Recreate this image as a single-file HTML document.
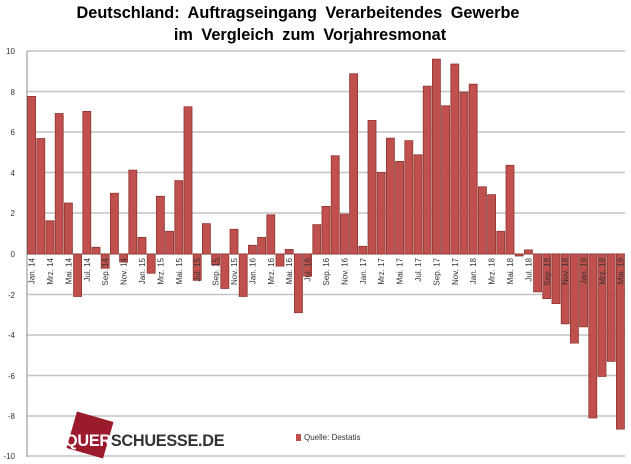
<!DOCTYPE html>
<html><head><meta charset="utf-8"><style>
html,body{margin:0;padding:0;background:#fff;}
svg{display:block;font-family:"Liberation Sans",sans-serif;}
</style></head><body>
<svg width="631" height="464" viewBox="0 0 631 464">
<text x="298" y="18" text-anchor="middle" font-size="16.3" font-weight="bold" word-spacing="4">Deutschland: Auftragseingang Verarbeitendes Gewerbe</text>
<text x="310" y="40" text-anchor="middle" font-size="16.3" font-weight="bold" word-spacing="4">im Vergleich zum Vorjahresmonat</text>
<g stroke="#c4c4c4" stroke-width="1.5">
<line x1="27" y1="51" x2="625" y2="51"/><line x1="27" y1="91.5" x2="625" y2="91.5"/><line x1="27" y1="132" x2="625" y2="132"/><line x1="27" y1="172.5" x2="625" y2="172.5"/><line x1="27" y1="213" x2="625" y2="213"/><line x1="27" y1="254" x2="625" y2="254"/><line x1="27" y1="294.5" x2="625" y2="294.5"/><line x1="27" y1="335" x2="625" y2="335"/><line x1="27" y1="375.5" x2="625" y2="375.5"/><line x1="27" y1="416" x2="625" y2="416"/><line x1="27" y1="456" x2="625" y2="456"/>
</g>
<line x1="27" y1="51" x2="27" y2="457" stroke="#888" stroke-width="1"/>
<g font-size="8" fill="#333" text-anchor="end">
<text x="15" y="54">10</text><text x="15" y="95">8</text><text x="15" y="135">6</text><text x="15" y="176">4</text><text x="15" y="216">2</text><text x="15" y="257">0</text><text x="15" y="298">-2</text><text x="15" y="338">-4</text><text x="15" y="379">-6</text><text x="15" y="419">-8</text><text x="15" y="459">-10</text>
</g>
<g transform="translate(27.6,254) scale(9.2,-20.25)" fill="#c0504d" stroke="#8e3532" stroke-width="0.8">
<rect x="0" y="0" width="0.87" height="7.78" vector-effect="non-scaling-stroke"/>
<rect x="1" y="0" width="0.87" height="5.7" vector-effect="non-scaling-stroke"/>
<rect x="2" y="0" width="0.87" height="1.64" vector-effect="non-scaling-stroke"/>
<rect x="3" y="0" width="0.87" height="6.94" vector-effect="non-scaling-stroke"/>
<rect x="4" y="0" width="0.87" height="2.52" vector-effect="non-scaling-stroke"/>
<rect x="5" y="-2.1" width="0.87" height="2.1" vector-effect="non-scaling-stroke"/>
<rect x="6" y="0" width="0.87" height="7.04" vector-effect="non-scaling-stroke"/>
<rect x="7" y="0" width="0.87" height="0.33" vector-effect="non-scaling-stroke"/>
<rect x="8" y="-0.7" width="0.87" height="0.7" vector-effect="non-scaling-stroke"/>
<rect x="9" y="0" width="0.87" height="3.0" vector-effect="non-scaling-stroke"/>
<rect x="10" y="-0.4" width="0.87" height="0.4" vector-effect="non-scaling-stroke"/>
<rect x="11" y="0" width="0.87" height="4.14" vector-effect="non-scaling-stroke"/>
<rect x="12" y="0" width="0.87" height="0.82" vector-effect="non-scaling-stroke"/>
<rect x="13" y="-0.95" width="0.87" height="0.95" vector-effect="non-scaling-stroke"/>
<rect x="14" y="0" width="0.87" height="2.85" vector-effect="non-scaling-stroke"/>
<rect x="15" y="0" width="0.87" height="1.12" vector-effect="non-scaling-stroke"/>
<rect x="16" y="0" width="0.87" height="3.62" vector-effect="non-scaling-stroke"/>
<rect x="17" y="0" width="0.87" height="7.27" vector-effect="non-scaling-stroke"/>
<rect x="18" y="-1.3" width="0.87" height="1.3" vector-effect="non-scaling-stroke"/>
<rect x="19" y="0" width="0.87" height="1.5" vector-effect="non-scaling-stroke"/>
<rect x="20" y="-0.55" width="0.87" height="0.55" vector-effect="non-scaling-stroke"/>
<rect x="21" y="-1.7" width="0.87" height="1.7" vector-effect="non-scaling-stroke"/>
<rect x="22" y="0" width="0.87" height="1.22" vector-effect="non-scaling-stroke"/>
<rect x="23" y="-2.1" width="0.87" height="2.1" vector-effect="non-scaling-stroke"/>
<rect x="24" y="0" width="0.87" height="0.43" vector-effect="non-scaling-stroke"/>
<rect x="25" y="0" width="0.87" height="0.82" vector-effect="non-scaling-stroke"/>
<rect x="26" y="0" width="0.87" height="1.94" vector-effect="non-scaling-stroke"/>
<rect x="27" y="-0.6" width="0.87" height="0.6" vector-effect="non-scaling-stroke"/>
<rect x="28" y="0" width="0.87" height="0.23" vector-effect="non-scaling-stroke"/>
<rect x="29" y="-2.9" width="0.87" height="2.9" vector-effect="non-scaling-stroke"/>
<rect x="30" y="-1.1" width="0.87" height="1.1" vector-effect="non-scaling-stroke"/>
<rect x="31" y="0" width="0.87" height="1.45" vector-effect="non-scaling-stroke"/>
<rect x="32" y="0" width="0.87" height="2.35" vector-effect="non-scaling-stroke"/>
<rect x="33" y="0" width="0.87" height="4.85" vector-effect="non-scaling-stroke"/>
<rect x="34" y="0" width="0.87" height="1.97" vector-effect="non-scaling-stroke"/>
<rect x="35" y="0" width="0.87" height="8.9" vector-effect="non-scaling-stroke"/>
<rect x="36" y="0" width="0.87" height="0.38" vector-effect="non-scaling-stroke"/>
<rect x="37" y="0" width="0.87" height="6.6" vector-effect="non-scaling-stroke"/>
<rect x="38" y="0" width="0.87" height="4.03" vector-effect="non-scaling-stroke"/>
<rect x="39" y="0" width="0.87" height="5.72" vector-effect="non-scaling-stroke"/>
<rect x="40" y="0" width="0.87" height="4.57" vector-effect="non-scaling-stroke"/>
<rect x="41" y="0" width="0.87" height="5.6" vector-effect="non-scaling-stroke"/>
<rect x="42" y="0" width="0.87" height="4.9" vector-effect="non-scaling-stroke"/>
<rect x="43" y="0" width="0.87" height="8.29" vector-effect="non-scaling-stroke"/>
<rect x="44" y="0" width="0.87" height="9.62" vector-effect="non-scaling-stroke"/>
<rect x="45" y="0" width="0.87" height="7.32" vector-effect="non-scaling-stroke"/>
<rect x="46" y="0" width="0.87" height="9.38" vector-effect="non-scaling-stroke"/>
<rect x="47" y="0" width="0.87" height="7.99" vector-effect="non-scaling-stroke"/>
<rect x="48" y="0" width="0.87" height="8.39" vector-effect="non-scaling-stroke"/>
<rect x="49" y="0" width="0.87" height="3.32" vector-effect="non-scaling-stroke"/>
<rect x="50" y="0" width="0.87" height="2.93" vector-effect="non-scaling-stroke"/>
<rect x="51" y="0" width="0.87" height="1.12" vector-effect="non-scaling-stroke"/>
<rect x="52" y="0" width="0.87" height="4.38" vector-effect="non-scaling-stroke"/>
<rect x="53" y="-0.1" width="0.87" height="0.1" vector-effect="non-scaling-stroke"/>
<rect x="54" y="0" width="0.87" height="0.2" vector-effect="non-scaling-stroke"/>
<rect x="55" y="-1.87" width="0.87" height="1.87" vector-effect="non-scaling-stroke"/>
<rect x="56" y="-2.2" width="0.87" height="2.2" vector-effect="non-scaling-stroke"/>
<rect x="57" y="-2.45" width="0.87" height="2.45" vector-effect="non-scaling-stroke"/>
<rect x="58" y="-3.45" width="0.87" height="3.45" vector-effect="non-scaling-stroke"/>
<rect x="59" y="-4.4" width="0.87" height="4.4" vector-effect="non-scaling-stroke"/>
<rect x="60" y="-3.6" width="0.87" height="3.6" vector-effect="non-scaling-stroke"/>
<rect x="61" y="-8.1" width="0.87" height="8.1" vector-effect="non-scaling-stroke"/>
<rect x="62" y="-6.05" width="0.87" height="6.05" vector-effect="non-scaling-stroke"/>
<rect x="63" y="-5.3" width="0.87" height="5.3" vector-effect="non-scaling-stroke"/>
<rect x="64" y="-8.65" width="0.87" height="8.65" vector-effect="non-scaling-stroke"/>
</g>
<g font-size="8" fill="#333" text-anchor="end">
<text transform="translate(34.6,258) rotate(-90)">Jan. 14</text>
<text transform="translate(53,258) rotate(-90)">Mrz. 14</text>
<text transform="translate(71.4,258) rotate(-90)">Mai. 14</text>
<text transform="translate(89.8,258) rotate(-90)">Jul. 14</text>
<text transform="translate(108.2,258) rotate(-90)">Sep. 14</text>
<text transform="translate(126.6,258) rotate(-90)">Nov. 14</text>
<text transform="translate(145,258) rotate(-90)">Jan. 15</text>
<text transform="translate(163.4,258) rotate(-90)">Mrz. 15</text>
<text transform="translate(181.8,258) rotate(-90)">Mai. 15</text>
<text transform="translate(200.2,258) rotate(-90)">Jul. 15</text>
<text transform="translate(218.6,258) rotate(-90)">Sep. 15</text>
<text transform="translate(237,258) rotate(-90)">Nov. 15</text>
<text transform="translate(255.4,258) rotate(-90)">Jan. 16</text>
<text transform="translate(273.8,258) rotate(-90)">Mrz. 16</text>
<text transform="translate(292.2,258) rotate(-90)">Mai. 16</text>
<text transform="translate(310.6,258) rotate(-90)">Jul. 16</text>
<text transform="translate(329,258) rotate(-90)">Sep. 16</text>
<text transform="translate(347.4,258) rotate(-90)">Nov. 16</text>
<text transform="translate(365.8,258) rotate(-90)">Jan. 17</text>
<text transform="translate(384.2,258) rotate(-90)">Mrz. 17</text>
<text transform="translate(402.6,258) rotate(-90)">Mai. 17</text>
<text transform="translate(421,258) rotate(-90)">Jul. 17</text>
<text transform="translate(439.4,258) rotate(-90)">Sep. 17</text>
<text transform="translate(457.8,258) rotate(-90)">Nov. 17</text>
<text transform="translate(476.2,258) rotate(-90)">Jan. 18</text>
<text transform="translate(494.6,258) rotate(-90)">Mrz. 18</text>
<text transform="translate(513,258) rotate(-90)">Mai. 18</text>
<text transform="translate(531.4,258) rotate(-90)">Jul. 18</text>
<text transform="translate(549.8,258) rotate(-90)">Sep. 18</text>
<text transform="translate(568.2,258) rotate(-90)">Nov. 18</text>
<text transform="translate(586.6,258) rotate(-90)">Jan. 19</text>
<text transform="translate(605,258) rotate(-90)">Mrz. 19</text>
<text transform="translate(623.4,258) rotate(-90)">Mai. 19</text>
</g>
<rect x="71" y="416" width="38" height="38" fill="#9b1b2c" transform="rotate(16 90 435)"/>
<text x="65" y="446" font-size="16.3" font-weight="bold" fill="#333" letter-spacing="-0.3"><tspan fill="#fff">QUER</tspan>SCHUESSE.DE</text>
<rect x="296" y="434" width="5" height="7" fill="#c0504d"/>
<text x="304" y="440" font-size="8" fill="#333">Quelle: Destatis</text>
</svg>
</body></html>
